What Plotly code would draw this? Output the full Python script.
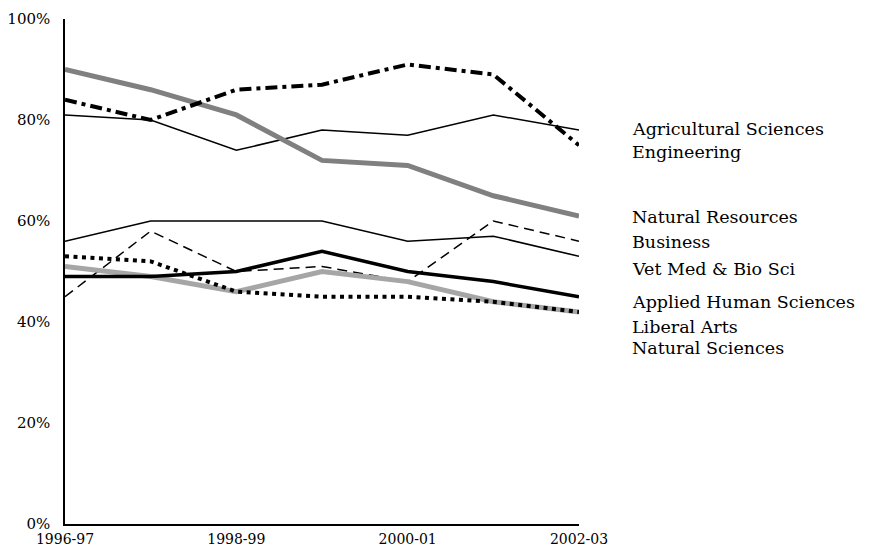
import plotly.graph_objects as go

years = ["1996-97", "1997-98", "1998-99", "1999-00", "2000-01", "2001-02", "2002-03"]
tick_years = ["1996-97", "1998-99", "2000-01", "2002-03"]
y_ticks = [0, 20, 40, 60, 80, 100]
y_tick_text = ["0%", "20%", "40%", "60%", "80%", "100%"]

agricultural_sciences = [81, 80, 74, 78, 77, 81, 78]
engineering = [84, 80, 86, 87, 91, 89, 75]
natural_resources = [90, 86, 81, 72, 71, 65, 61]
business = [45, 58, 50, 51, 48, 60, 56]
vet_med_bio_sci = [56, 60, 60, 60, 56, 57, 53]
applied_human_sciences = [49, 49, 50, 54, 50, 48, 45]
liberal_arts = [51, 49, 46, 50, 48, 44, 42]
natural_sciences = [53, 52, 46, 45, 45, 44, 42]

labels = ["Agricultural Sciences", "Engineering", "Natural Resources", "Business",
          "Vet Med & Bio Sci", "Applied Human Sciences", "Liberal Arts", "Natural Sciences"]
label_y = [78.2, 73.7, 60.7, 55.9, 50.5, 44.0, 39.1, 34.8]

series = [
    (agricultural_sciences, dict(color="black", width=1.5, dash="solid")),
    (business, dict(color="black", width=1.5, dash="10px,6px")),
    (vet_med_bio_sci, dict(color="black", width=1.5, dash="solid")),
    (natural_resources, dict(color="#808080", width=5, dash="solid")),
    (liberal_arts, dict(color="#a6a6a6", width=5, dash="solid")),
    (applied_human_sciences, dict(color="black", width=3.5, dash="solid")),
    (natural_sciences, dict(color="black", width=4, dash="4px,4.5px")),
    (engineering, dict(color="black", width=4, dash="12px,5px,4px,5px")),
]

fig = go.Figure()
for vals, ln in series:
    fig.add_trace(go.Scatter(x=years, y=vals, mode="lines", line=ln, showlegend=False,
                             hoverinfo="skip"))

for txt, yv in zip(labels, label_y):
    fig.add_annotation(text=txt, x=1.1, xref="paper", y=yv, yref="y",
                       xanchor="left", yanchor="middle", showarrow=False,
                       font=dict(family="DejaVu Serif", size=17.5, color="black"))

fig.update_layout(
    width=872, height=550,
    margin=dict(l=65, r=293, t=19, b=26),
    paper_bgcolor="white", plot_bgcolor="white",
    font=dict(family="DejaVu Serif", size=15, color="black"),
)
fig.update_xaxes(type="category", range=[0, 6], tickvals=tick_years, ticktext=tick_years,
                 showgrid=False, zeroline=False, showline=True, linecolor="black", linewidth=1.5,
                 ticks="", ticklabelstandoff=1, automargin=False,
                 tickfont=dict(family="DejaVu Serif", size=14, color="black"))
fig.update_yaxes(range=[0, 100], tickvals=y_ticks, ticktext=y_tick_text,
                 showgrid=False, zeroline=False, showline=True, linecolor="black", linewidth=1.5,
                 ticks="", ticklabelstandoff=10, automargin=False)

fig.write_html("out.html", config={"displayModeBar": False},
               post_script="document.body.style.margin='0';document.body.style.overflow='hidden';")
